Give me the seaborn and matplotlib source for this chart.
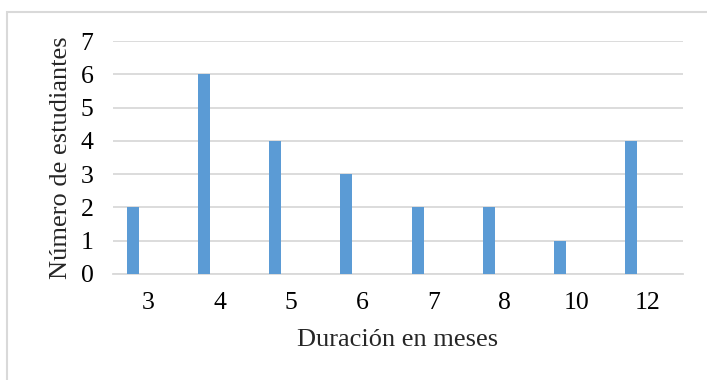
import matplotlib
matplotlib.use("Agg")

import matplotlib.pyplot as plt
import matplotlib.patches as mpatches
import seaborn as sns


# ---------------------------------------------------------------------------
# Data
# ---------------------------------------------------------------------------

duracion = ["3", "4", "5", "6", "7", "8", "10", "12"]
estudiantes = [2, 6, 4, 3, 2, 2, 1, 4]
y_ticks = [0, 1, 2, 3, 4, 5, 6, 7]


# ---------------------------------------------------------------------------
# Plot
# ---------------------------------------------------------------------------

sns.set_style("white")
plt.rcParams["font.family"] = ["Liberation Serif", "DejaVu Serif"]

fig = plt.figure(figsize=(7.07, 3.80), dpi=100)
ax = fig.add_axes([113 / 707, 1 - 274 / 380, 570 / 707, 233 / 380])

sns.barplot(x=duracion, y=estudiantes, color="#5b9bd5", width=0.168,
            saturation=1, ax=ax, zorder=3)

# Excel-style offset: bars sit left of the category centre
for bar in ax.patches:
    bar.set_x(bar.get_x() - 0.225)
    bar.set_edgecolor("none")

ax.set_xlim(-0.5, len(duracion) - 0.5)
ax.set_ylim(0, 7)
ax.set_yticks(y_ticks)
ax.set_yticklabels([str(t) for t in y_ticks])

ax.yaxis.grid(True, color="#d9d9d9", linewidth=1.3, zorder=0)
ax.xaxis.grid(False)
for side in ["top", "right", "left"]:
    ax.spines[side].set_visible(False)
ax.spines["bottom"].set_color("#d9d9d9")
ax.spines["bottom"].set_linewidth(1.3)

ax.tick_params(axis="both", length=0, labelsize=18.5, colors="black")
ax.tick_params(axis="y", pad=14)
ax.tick_params(axis="x", pad=13)

ax.set_xlabel("Duración en meses", fontsize=19, labelpad=11)
ax.set_ylabel("Número de estudiantes", fontsize=19, labelpad=6)

# chart frame
frame = mpatches.Rectangle((7 / 707, -0.1), 1.2, 1.1 - 12 / 380,
                           transform=fig.transFigure, fill=False,
                           edgecolor="#d9d9d9", linewidth=1.5, clip_on=False)
fig.patches.append(frame)

fig.savefig("out.png", dpi=100)
